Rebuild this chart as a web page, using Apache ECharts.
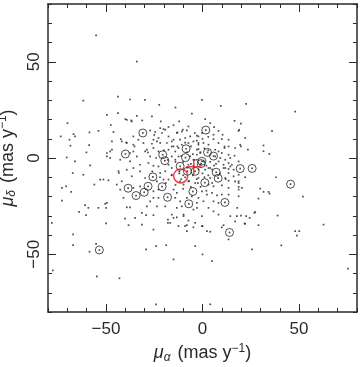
<!DOCTYPE html>
<html>
<head>
<meta charset="utf-8">
<script src="https://cdn.jsdelivr.net/npm/echarts@6.0.0/dist/echarts.min.js"></script>
<style>
  html, body { margin: 0; padding: 0; background: #fff; }
  #chart { width: 360px; height: 367px; }
</style>
</head>
<body>
<div id="chart"></div>
<script>
// proper motions (mas/yr): field stars
const dots = [
  [-55.1,63.7],[-34.0,50.1],[-61.7,29.8],[-43.8,31.9],[-37.5,30.4],[-29.8,30.2],[-22.4,27.6],[-14.0,26.2],[-5.5,23.1],[-49.5,22.4],
  [-43.8,23.3],[-39.9,20.2],[-36.9,19.5],[-34.0,21.9],[-31.2,19.5],[-26.2,21.6],[-69.9,18.1],[-47.5,17.1],[-66.8,12.4],[-66.0,11.2],
  [-73.4,11.2],[-68.9,9.5],[-58.5,13.3],[-53.9,14.1],[-58.7,6.7],[-60.1,2.9],[-68.4,6.4],[-46.1,13.5],[-46.9,8.6],[-42.3,9.8],
  [-39.5,8.1],[-35.2,6.0],[-33.2,9.5],[-27.1,14.3],[-24.5,13.5],[-21.9,15.5],[-19.3,14.7],[-13.0,13.3],[-10.2,14.7],[-8.1,14.3],
  [-49.5,2.6],[-47.8,3.4],[-37.5,2.6],[-28.3,2.9],[-26.2,7.4],[-23.6,8.6],[-21.9,7.8],[-15.9,8.6],[-15.0,6.0],
  [-0.3,30.2],[9.5,27.1],[22.6,28.1],[48.0,24.1],[1.4,20.2],[4.0,18.1],[16.6,19.3],[19.9,17.9],[36.0,14.1],[8.3,14.1],
  [-2.1,11.2],[5.7,9.8],[10.0,9.8],[10.4,12.1],[18.7,14.1],[22.1,10.4],[13.5,6.0],[11.4,6.0],[19.9,6.0],[23.5,4.3],
  [31.6,6.5],[34.6,2.1],[13.5,1.7],[16.6,1.2],[10.0,2.6],
  [-70.3,0.3],[-66.0,-1.8],[-58.2,-3.8],[-67.2,-7.8],[-61.7,-8.7],[-53.0,-11.2],[-48.7,-11.6],[-56.0,-13.8],[-43.3,-7.8],[-41.8,-12.1],
  [-72.8,-15.5],[-70.6,-14.7],[-68.0,-17.6],[-72.8,-22.1],[-60.8,-24.5],[-59.1,-25.9],[-53.9,-25.9],[-50.4,-23.8],[-49.9,-25.9],[-63.9,-28.0],
  [-60.3,-29.7],[-78.0,-33.7],[-49.9,-34.0],[-39.2,-25.6],[-37.5,-25.6],[-40.1,-31.5],[-34.9,-31.1],[-38.3,-34.9],[-31.4,-28.5],[-29.2,-29.7],
  [-25.4,-29.7],[-17.9,-32.0],[-17.9,-33.7],[-13.3,-30.8],[-9.8,-29.4],[-8.1,-34.9],[-4.7,-36.0],[-67.0,-39.7],[-67.0,-45.3],[-55.1,-44.6],
  [-58.5,-48.7],[-29.2,-47.5],[-24.0,-45.8],[-18.8,-45.3],[-3.8,-45.8],[-15.0,-52.7],[-77.5,-58.4],[-54.7,-61.5],[-43.0,-62.5],[-24.0,-76.0],
  [38.0,-10.0],[29.9,-15.9],[31.6,-17.6],[34.2,-17.6],[29.0,-21.1],[52.0,-20.1],[26.9,-28.5],[38.9,-29.9],[29.0,-34.9],[22.6,-30.2],
  [21.8,-34.0],[24.4,-31.1],[18.0,-25.9],[17.8,-30.2],[19.9,-29.9],[14.4,-30.2],[10.0,-36.0],[10.9,-34.9],[2.3,-38.0],[4.0,-38.3],
  [0.0,-35.4],[13.5,-42.3],[48.0,-38.0],[50.1,-38.0],[48.9,-40.3],[62.7,-34.6],[40.8,-45.4],[25.6,-47.5],[0.0,-50.1],[4.9,-53.6],
  [75.3,-57.5],[4.0,-76.0],[22.1,-10.0],[18.7,-12.1],[27.3,-28.0],[18.7,-15.0],
  [-39.2,19.8],[-36.6,19.0],[-21.6,19.0],[-12.1,19.0],[-7.3,16.4],[-17.6,16.1],[-20.2,15.0],[-21.0,13.0],[-13.3,13.0],[-10.7,13.8],
  [-35.8,11.2],[-41.8,8.6],[-39.2,7.8],[-35.8,6.9],[-30.6,7.8],[-25.4,9.5],[-22.8,10.4],[-17.6,11.2],[-15.0,9.5],[-11.6,9.5],
  [-9.0,10.4],[-6.4,11.2],[-2.9,11.6],[-46.9,4.3],[-49.5,0.8],[-47.8,0.0],[-35.8,3.4],[-34.0,0.8],[-29.7,3.4],[-27.1,0.8],
  [-25.4,5.2],[-22.8,3.4],[-18.4,7.8],[-15.9,6.0],[-17.6,4.3],[-14.1,3.4],[-12.4,5.2],[-10.7,6.9],[-7.3,7.8],[-4.7,8.6],
  [-2.1,6.9],[-2.9,4.3],[-15.9,0.8],[-14.1,-0.9],[-12.4,0.8],[-6.4,0.8],[-4.7,-0.9],[-2.9,1.7],[-42.6,-0.9],[-37.5,-1.8],
  [-32.3,-3.5],[-28.0,-2.6],[-25.4,-4.0],[-22.8,-4.4],[-17.6,-3.5],[-15.9,-5.2],[-7.3,-3.5],[-4.7,-4.0],[-28.8,4.3],
  [19.0,14.7],[-0.3,13.0],[5.7,12.1],[13.5,9.5],[-2.1,7.8],[0.5,7.8],[3.1,6.9],[8.3,7.8],[11.4,5.2],[16.9,5.2],
  [19.5,6.9],[-2.1,4.6],[-1.2,2.6],[6.6,4.3],[8.3,3.4],[6.6,0.8],[9.2,0.0],[11.8,-0.9],[14.4,0.0],[8.3,-1.8],
  [10.9,-3.5],[13.5,-2.6],[15.2,-3.5],[18.7,-1.8],[10.9,-5.2],[13.5,-5.7],[-2.9,-0.9],[-1.2,-3.5],[3.1,-5.2],[0.5,-1.8],
  [-43.5,-6.9],[-39.2,-6.1],[-35.8,-5.2],[-32.3,-6.9],[-36.6,-9.5],[-29.7,-10.4],[-21.9,-7.8],[-19.3,-6.9],[-15.9,-8.7],[-17.6,-11.2],
  [-20.2,-11.2],[-23.6,-12.1],[-51.3,-11.2],[-44.4,-13.8],[-42.6,-16.4],[-40.9,-20.7],[-35.8,-15.5],[-32.3,-14.7],[-25.4,-17.3],[-22.8,-16.4],
  [-25.4,-20.7],[-22.8,-20.7],[-27.1,-22.5],[-15.0,-16.4],[-13.3,-18.1],[-9.8,-13.8],[-11.6,-12.1],[-7.3,-12.1],[-3.8,-13.0],[-5.5,-19.9],
  [-8.1,-20.7],[-11.6,-22.5],[-14.1,-20.7],[-49.5,-23.3],[-28.8,-25.1],[-23.6,-25.1],[-19.3,-25.1],[-13.3,-25.9],[-10.7,-25.1],[-4.7,-26.8],
  [-2.9,-23.3],[-15.9,-29.4],[-15.0,-31.1],[-9.8,-30.2],[-16.7,-33.7],[-7.3,-32.5],[-3.8,-33.7],[-31.4,-34.6],[-25.4,-37.2],[-12.4,-35.4],
  [-9.0,-35.4],[-8.1,-38.0],
  [1.4,-6.1],[4.0,-5.2],[11.8,-5.2],[14.4,-4.4],[16.1,-6.1],[13.5,-7.8],[16.1,-9.5],[18.7,-8.7],[-2.1,-10.4],[4.0,-10.4],
  [11.8,-10.4],[13.5,-11.8],[16.9,-12.1],[18.7,-13.0],[-2.4,-13.0],[3.1,-13.8],[5.7,-14.7],[10.0,-14.2],[13.5,-15.5],[18.7,-16.4],
  [20.4,-15.5],[-0.3,-17.3],[2.3,-19.0],[4.9,-18.1],[7.5,-19.4],[10.0,-19.0],[13.5,-19.0],[18.7,-19.9],[-2.1,-20.7],[0.5,-22.5],
  [5.7,-22.5],[8.3,-23.3],[-2.9,-25.9],[3.1,-25.9],[5.7,-27.7],[8.3,-29.4],[-0.3,-30.2],[16.9,-32.9],[22.1,-34.2],[-0.3,-35.4],
  [-10,-2],[-8,-5],[-6,-3],[-4,-1],[-2,-6],[0,-8],[2,-4],[3,-9],[5,-6],[-12,-7],
  [-9,-10],[-7,-12],[-5,-9],[-3,-11],[1,-10],[4,-2],[6,-4],[-14,-2],[-16,-9],[-1,3],
  [1,5],[3,4],[-5,2],[-8,3],[-11,1],[-13,6],[-6,6],[-3,9],[0,10],[3,11],
  [-18,-1],[-20,4],[-24,0],[-26,-7],[-22,-10],[-19,-13],[-14,-14],[-10,-16],[-6,-15],[-1,-15],
  [2,-17],[5,-13],[7,-3],[9,-8],[12,-11],[-9,8],[-4,13],[6,16],[-15,17],[-25,12],
  [-12,-8],[-10,-9],[-11,-11],[31.6,3.5],[34.7,-18.5]
];

// circled stars
const circled = [
  [-53.4,-47.8],[-30.9,13.0],[-39.9,2.1],[-20.6,1.7],[-19.5,-1.4],[-8.5,4.8],[-8.8,0.2],[1.7,14.5],[2.6,2.9],[5.7,1.0],
  [-0.3,-1.7],[-0.7,-2.9],[-11.6,-4.3],[-7.8,-6.9],[-3.8,-6.9],[7.1,-7.4],[8.1,-10.5],[19.5,-5.5],[25.7,-5.4],[1.2,-12.8],
  [-25.7,-9.8],[-28.2,-14.7],[-20.9,-14.9],[-38.5,-15.7],[-30.2,-17.8],[-34.4,-19.5],[-18.1,-20.4],[-5.0,-17.4],[-7.1,-23.8],[11.6,-23.1],
  [14.0,-38.7],[45.6,-13.6]
];

const redCircle = [[-11.3, -9.3]];
const redCross = [[-4.5, -4.5]];

const majorTicks = [-50, 0, 50];

const FONT = "'Liberation Sans', Arial, Helvetica, sans-serif";
const ink = '#2a2a2a';

function fmt(v) {
  return v < 0 ? '\u2212' + (-v) : String(v);
}

function makeAxis(pos, opts) {
  const base = {
    type: 'value',
    min: -80,
    max: 80,
    interval: 10,
    position: pos,
    splitLine: { show: false },
    axisLine: { show: true, onZero: false, lineStyle: { color: ink, width: 1.5 } },
    axisTick: { show: true, inside: true, length: 4, lineStyle: { color: ink, width: 1 } },
    axisLabel: { show: false }
  };
  return Object.assign(base, opts);
}

// long ticks at -50, 0, 50 drawn by a second axis on the same side
function majorAxis(pos) {
  return makeAxis(pos, {
    axisLine: { show: false, onZero: false },
    axisTick: { show: true, inside: true, length: 8, customValues: majorTicks, lineStyle: { color: ink, width: 1 } }
  });
}

const rich = {
  mu: { fontStyle: 'italic', fontSize: 18, fontFamily: FONT, color: ink },
  sub: { fontStyle: 'italic', fontSize: 12, fontFamily: FONT, color: ink, padding: [9, 2, 0, 0] },
  sup: { fontSize: 12, fontFamily: FONT, color: ink, padding: [0, 0, 9, 0] }
};

const chart = echarts.init(document.getElementById('chart'));

chart.setOption({
  backgroundColor: '#fff',
  animation: false,
  grid: { left: 48, right: 3, top: 4, bottom: 55, containLabel: false, outerBoundsMode: 'none' },
  xAxis: [
    makeAxis('bottom', {
      axisLabel: {
        show: true, customValues: majorTicks, formatter: fmt,
        fontSize: 17, fontFamily: FONT, color: ink, margin: 9
      },
      name: '{mu|\u03bc}{sub|\u03b1} (mas y{sup|\u22121})',
      nameLocation: 'middle',
      nameGap: 27,
      nameTextStyle: { fontSize: 18, fontFamily: FONT, color: ink, rich: rich }
    }),
    majorAxis('bottom'),
    makeAxis('top', {}),
    majorAxis('top')
  ],
  yAxis: [
    makeAxis('left', {
      axisLabel: {
        show: true, customValues: majorTicks, formatter: fmt, rotate: 90,
        fontSize: 17, fontFamily: FONT, color: ink, margin: 5
      },
      name: '{mu|\u03bc}{sub|\u03b4} (mas y{sup|\u22121})',
      nameLocation: 'middle',
      nameGap: 27,
      nameTextStyle: { fontSize: 18, fontFamily: FONT, color: ink, rich: rich }
    }),
    majorAxis('left'),
    makeAxis('right', {}),
    majorAxis('right')
  ],
  series: [
    {
      type: 'scatter',
      data: dots,
      symbol: 'rect',
      symbolSize: 1.7,
      itemStyle: { color: '#222' },
      silent: true
    },
    {
      type: 'scatter',
      data: circled,
      symbol: 'rect',
      symbolSize: 1.7,
      itemStyle: { color: '#222' },
      silent: true
    },
    {
      type: 'scatter',
      data: circled,
      symbol: 'circle',
      symbolSize: 8,
      itemStyle: { color: 'rgba(0,0,0,0)', borderColor: '#222', borderWidth: 1 },
      silent: true
    },
    {
      type: 'scatter',
      data: redCircle,
      symbol: 'circle',
      symbolSize: 14,
      itemStyle: { color: 'rgba(0,0,0,0)', borderColor: '#e8141c', borderWidth: 1.5 },
      silent: true,
      z: 5
    },
    {
      type: 'scatter',
      data: redCross,
      symbol: 'path://M9,0H11V9H20V11H11V20H9V11H0V9H9Z',
      symbolSize: 15,
      itemStyle: { color: '#e8141c' },
      silent: true,
      z: 5
    }
  ]
});
</script>
</body>
</html>
